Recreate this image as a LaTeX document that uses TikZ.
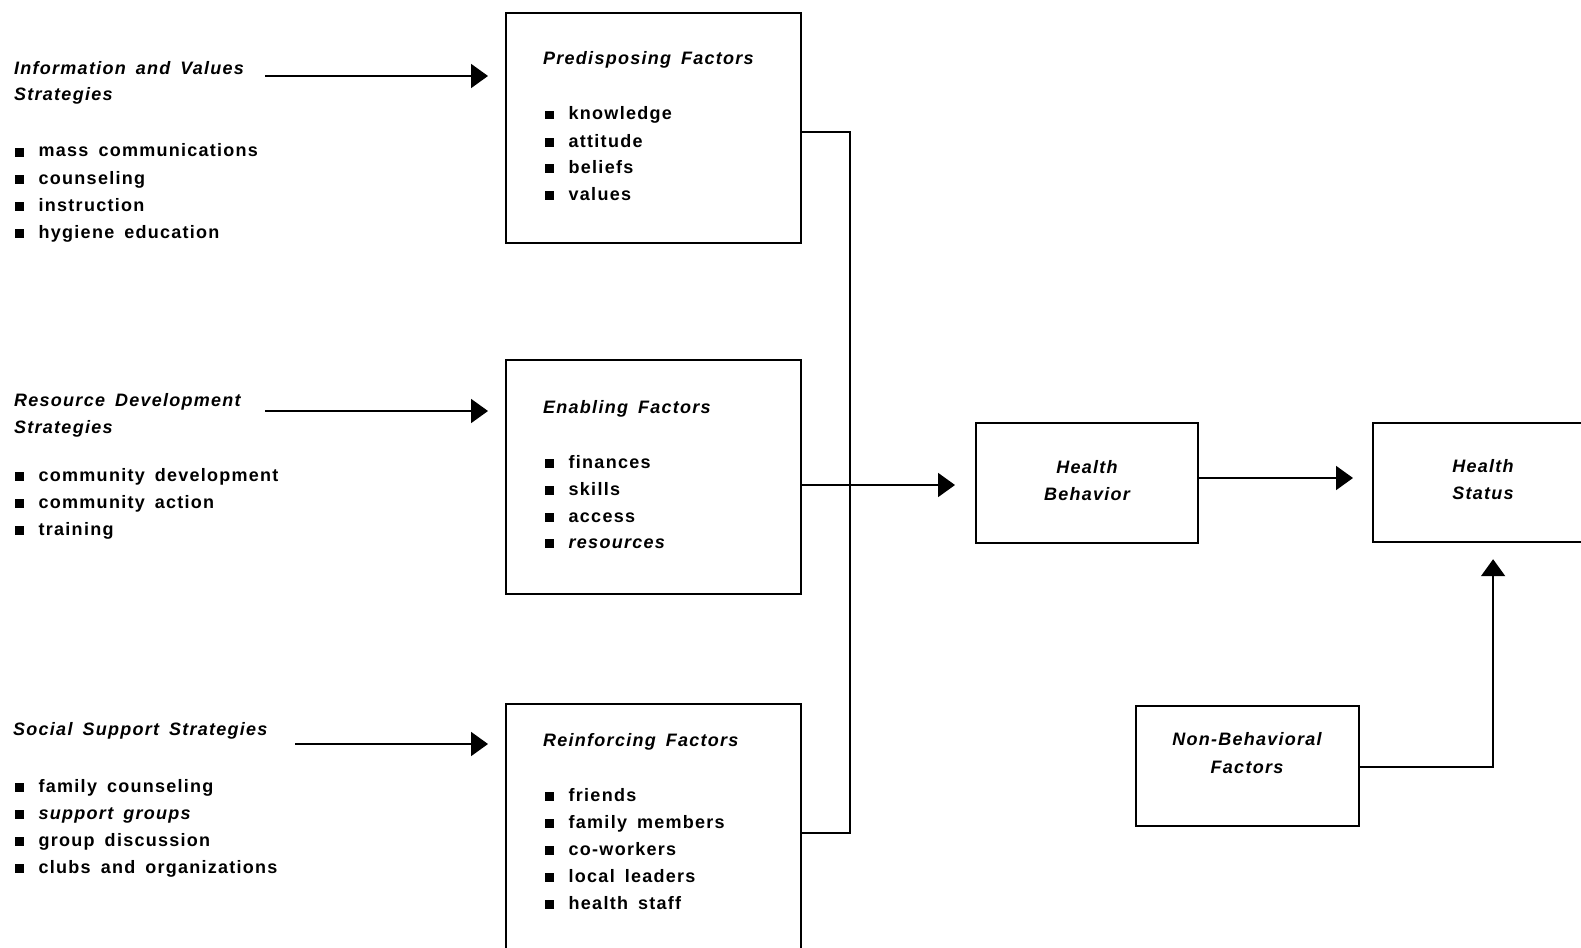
\documentclass[tikz,border=0pt]{standalone}
\usepackage{fontspec}
\setmainfont{Liberation Sans}[LetterSpace=7, WordSpace=1.6]
\usetikzlibrary{arrows.meta}
\newcommand{\sqb}{\rule[0.5pt]{8.5pt}{8.5pt}\hspace{15pt}}
\begin{document}
\begin{tikzpicture}[x=1pt,y=-1pt,
  box/.style={draw, line width=2.2pt, rectangle, anchor=north west, inner sep=0pt},
  tx/.style={anchor=base west, inner sep=0pt, font=\fontsize{18}{20}\selectfont\bfseries},
  hd/.style={anchor=base west, inner sep=0pt, font=\fontsize{18}{20}\selectfont\bfseries\itshape},
  ctr/.style={anchor=base, inner sep=0pt, font=\fontsize{18}{20}\selectfont\bfseries\itshape},
  conn/.style={line width=1.9pt},
  arr/.style={line width=1.9pt, -{Triangle[length=17pt,width=24pt]}}]
\useasboundingbox (0,0) rectangle (1581,947);
\clip (0,0) rectangle (1581,947);
% boxes
\node[box, minimum width=295pt, minimum height=230pt] (pre) at (505,12) {};
\node[box, minimum width=295pt, minimum height=234pt] (enb) at (505,359) {};
\node[box, minimum width=295pt, minimum height=270pt] (rein) at (505,703) {};
\node[box, minimum width=222pt, minimum height=120pt] (hb) at (975,422) {};
\node[box, minimum width=240pt, minimum height=119pt] (hs) at (1372,422) {};
\node[box, minimum width=223pt, minimum height=120pt] (nb) at (1135,705) {};
% left strategies
\node[hd] (i1) at (14,75) {Information and Values};
\node[hd] (i2) at (14,101) {Strategies};
\node[tx] (i3) at (15,157) {\sqb mass communications};
\node[tx] (i4) at (15,184) {\sqb counseling};
\node[tx] (i5) at (15,211) {\sqb instruction};
\node[tx] (i6) at (15,238) {\sqb hygiene education};
\node[hd] (r1) at (14,406) {Resource Development};
\node[hd] (r2) at (14,433) {Strategies};
\node[tx] (r3) at (15,481) {\sqb community development};
\node[tx] (r4) at (15,508) {\sqb community action};
\node[tx] (r5) at (15,535) {\sqb training};
\node[hd] (s1) at (13,735) {Social Support Strategies};
\node[tx] (s2) at (15,792) {\sqb family counseling};
\node[tx] (s3) at (15,819) {\sqb \textit{support groups}};
\node[tx] (s4) at (15,846) {\sqb group discussion};
\node[tx] (s5) at (15,873) {\sqb clubs and organizations};
% predisposing
\node[hd] (p0) at (543,65) {Predisposing Factors};
\node[tx] (p1) at (545,120) {\sqb knowledge};
\node[tx] (p2) at (545,147) {\sqb attitude};
\node[tx] (p3) at (545,173) {\sqb beliefs};
\node[tx] (p4) at (545,200) {\sqb values};
% enabling
\node[hd] (e0) at (543,413) {Enabling Factors};
\node[tx] (e1) at (545,468) {\sqb finances};
\node[tx] (e2) at (545,495) {\sqb skills};
\node[tx] (e3) at (545,522) {\sqb access};
\node[tx] (e4) at (545,548) {\sqb \textit{resources}};
% reinforcing
\node[hd] (f0) at (543,746) {Reinforcing Factors};
\node[tx] (f1) at (545,801) {\sqb friends};
\node[tx] (f2) at (545,828) {\sqb family members};
\node[tx] (f3) at (545,855) {\sqb co-workers};
\node[tx] (f4) at (545,882) {\sqb local leaders};
\node[tx] (f5) at (545,909) {\sqb health staff};
% right boxes text
\node[ctr] (hbt1) at (1087,473) {Health};
\node[ctr] (hbt2) at (1087,500) {Behavior};
\node[ctr] (hst1) at (1483,472) {Health};
\node[ctr] (hst2) at (1483,499) {Status};
\node[ctr] (nbt1) at (1247,745) {Non-Behavioral};
\node[ctr] (nbt2) at (1247,773) {Factors};
% connectors
\coordinate (a1) at (265,76);
\coordinate (a2) at (265,411);
\coordinate (a3) at (295,744);
\draw[arr, shorten >=17pt] (a1) -- (a1 -| pre.west);
\draw[arr, shorten >=17pt] (a2) -- (a2 -| enb.west);
\draw[arr, shorten >=17pt] (a3) -- (a3 -| rein.west);
\coordinate (bt) at (850,132);
\coordinate (bb) at (850,833);
\draw[conn] (bt -| pre.east) -- (bt) -- (bb) -- (bb -| rein.east);
\coordinate (ea) at (800,485);
\draw[arr, shorten >=20pt] (ea -| enb.east) -- (ea -| hb.west);
\coordinate (ha) at (1000,478);
\draw[arr, shorten >=19pt] (ha -| hb.east) -- (ha -| hs.west);
\coordinate (na) at (1300,767);
\draw[arr, shorten >=16pt] (na -| nb.east) -| (hs.south);
\end{tikzpicture}
\end{document}
